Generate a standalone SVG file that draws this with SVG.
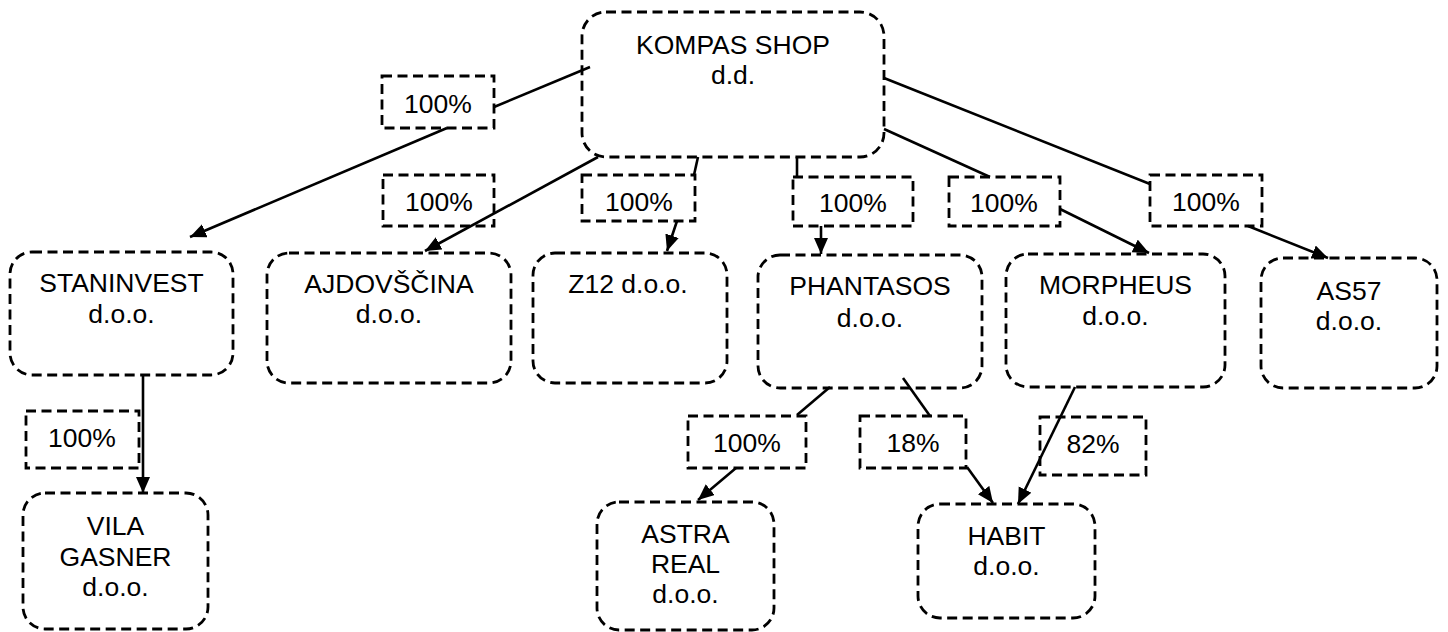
<svg xmlns="http://www.w3.org/2000/svg" width="1448" height="632" viewBox="0 0 1448 632">
<style>
.node{fill:none;stroke:#000;stroke-width:2.8;stroke-dasharray:10 5.5}
.lab{fill:none;stroke:#000;stroke-width:2.8;stroke-dasharray:10 5.5}
.ln{fill:none;stroke:#000;stroke-width:2.6}
.ar{fill:none;stroke:#000;stroke-width:2.6;marker-end:url(#ah)}
text{font-family:"Liberation Sans",Arial,sans-serif;font-size:26.5px;fill:#000;text-anchor:middle}
</style>
<defs>
<marker id="ah" markerUnits="userSpaceOnUse" markerWidth="18" markerHeight="16" refX="16" refY="7" orient="auto" viewBox="0 0 18 16">
<path d="M0,0 L16,7 L0,14 z" fill="#000"/>
</marker>
</defs>
<rect width="1448" height="632" fill="#fff"/>
<g id="connectors">
<line class="ln" x1="590" y1="67" x2="494" y2="107"/>
<line class="ar" x1="447" y1="128" x2="190" y2="237"/>
<line class="ar" x1="598" y1="157" x2="425" y2="251"/>
<line class="ln" x1="698" y1="157" x2="694" y2="175"/>
<line class="ar" x1="677" y1="221" x2="667" y2="251"/>
<line class="ln" x1="797" y1="157" x2="797" y2="177"/>
<line class="ar" x1="821" y1="226" x2="821" y2="254"/>
<line class="ln" x1="884" y1="129" x2="990" y2="177"/>
<line class="ar" x1="1060" y1="209" x2="1149" y2="253"/>
<line class="ln" x1="884" y1="78" x2="1150" y2="184"/>
<line class="ar" x1="1248" y1="226" x2="1328" y2="258"/>
<line class="ar" x1="143" y1="375" x2="143" y2="493"/>
<line class="ln" x1="830" y1="387" x2="797" y2="415"/>
<line class="ar" x1="736" y1="468" x2="698" y2="500"/>
<line class="ln" x1="903" y1="378" x2="930" y2="416"/>
<line class="ar" x1="967" y1="467" x2="993" y2="503"/>
<line class="ar" x1="1075" y1="387" x2="1018" y2="504"/>
</g>
<g id="labels">
<g id="lab1"><rect class="lab" x="382" y="76" width="112" height="52"/><text x="438" y="113">100%</text></g>
<g id="lab2"><rect class="lab" x="383" y="175" width="111" height="51"/><text x="439" y="211">100%</text></g>
<g id="lab3"><rect class="lab" x="582" y="175" width="113" height="46"/><text x="639" y="211">100%</text></g>
<g id="lab4"><rect class="lab" x="793" y="177" width="120" height="49"/><text x="853" y="212">100%</text></g>
<g id="lab5"><rect class="lab" x="949" y="177" width="111" height="49"/><text x="1004" y="212">100%</text></g>
<g id="lab6"><rect class="lab" x="1150" y="175" width="112" height="51"/><text x="1206" y="211">100%</text></g>
<g id="lab7"><rect class="lab" x="26" y="411" width="113" height="57"/><text x="82" y="447">100%</text></g>
<g id="lab8"><rect class="lab" x="688" y="416" width="118" height="52"/><text x="747" y="452">100%</text></g>
<g id="lab9"><rect class="lab" x="860" y="416" width="106" height="52"/><text x="913" y="452">18%</text></g>
<g id="lab10"><rect class="lab" x="1040" y="417" width="106" height="58"/><text x="1093" y="453">82%</text></g>
</g>
<g id="kompas"><rect class="node" x="582" y="12" width="302" height="145" rx="24"/><text x="733" y="54">KOMPAS SHOP</text><text x="733" y="84">d.d.</text></g>
<g id="staninvest"><rect class="node" x="10" y="252" width="223" height="123" rx="22"/><text x="121.5" y="292">STANINVEST</text><text x="121.5" y="323">d.o.o.</text></g>
<g id="ajdovscina"><rect class="node" x="267" y="253" width="244" height="130" rx="22"/><text x="389" y="293">AJDOVŠČINA</text><text x="389" y="323">d.o.o.</text></g>
<g id="z12"><rect class="node" x="533" y="253" width="194" height="130" rx="22"/><text x="628" y="293">Z12 d.o.o.</text></g>
<g id="phantasos"><rect class="node" x="758" y="255" width="224" height="133" rx="22"/><text x="870" y="295">PHANTASOS</text><text x="870" y="327">d.o.o.</text></g>
<g id="morpheus"><rect class="node" x="1006" y="254" width="219" height="133" rx="22"/><text x="1115.5" y="294">MORPHEUS</text><text x="1115.5" y="325">d.o.o.</text></g>
<g id="as57"><rect class="node" x="1261" y="258" width="176" height="130" rx="22"/><text x="1349" y="300">AS57</text><text x="1349" y="330">d.o.o.</text></g>
<g id="vila"><rect class="node" x="23" y="493" width="185" height="136" rx="22"/><text x="115.5" y="535">VILA</text><text x="115.5" y="566">GASNER</text><text x="115.5" y="596">d.o.o.</text></g>
<g id="astra"><rect class="node" x="597" y="502" width="177" height="128" rx="22"/><text x="685.5" y="543">ASTRA</text><text x="685.5" y="573">REAL</text><text x="685.5" y="603">d.o.o.</text></g>
<g id="habit"><rect class="node" x="918" y="504" width="177" height="114" rx="22"/><text x="1006.5" y="545">HABIT</text><text x="1006.5" y="575">d.o.o.</text></g>
</svg>
